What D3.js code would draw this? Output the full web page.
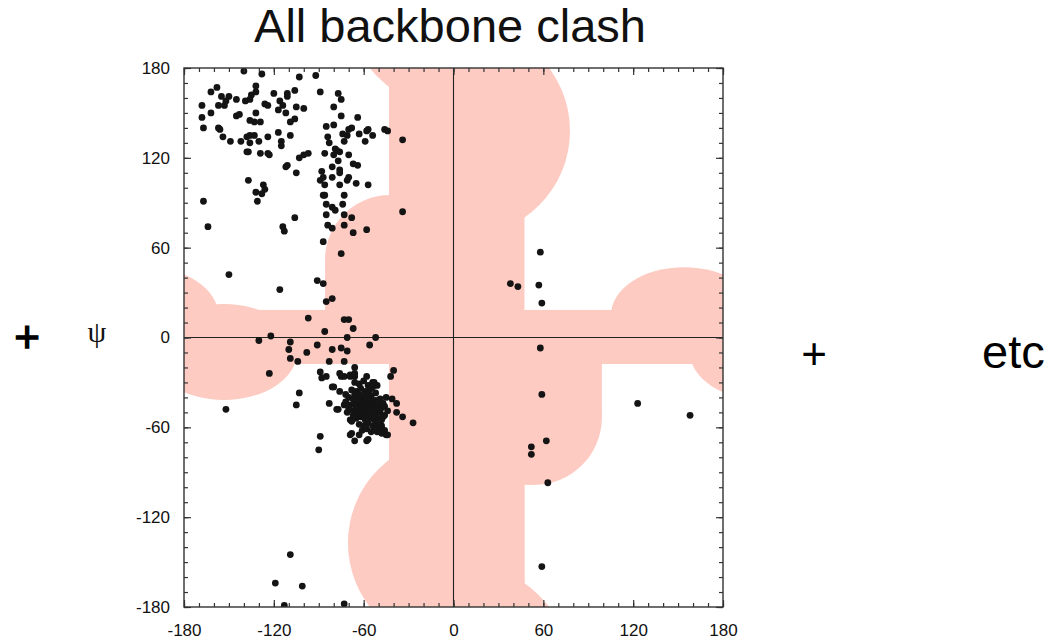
<!DOCTYPE html>
<html>
<head>
<meta charset="utf-8">
<script src="https://cdn.jsdelivr.net/npm/d3@7"></script>
<style>
body { margin: 0; background: #fff; }
</style>
</head>
<body>
<svg id="chart"></svg>
<script>
// tick labels (degrees)
const tickValues = [-180, -120, -60, 0, 60, 120, 180];

// clash region, in degrees
const bandPhi = [-43.1, 47.4];          // vertical band
const bandPsi = [-17.7, 18.4];          // horizontal band
const topLobe = [7.5, 138, 70.3];       // phi, psi, radius (right of band)
const bottomLobe = [-0.7, -137.2, 69.8];// phi, psi, radius (left of band)
const upperLeftCorner = [-42.4, 51.8, 43.4];
const lowerRightCorner = [54.1, -53.4, 45];
const upperRightLobe = [154, 15, 48.8, 32];     // phi, psi, rx, ry
const lowerLeftLobe = [-153.3, -9.7, 48.8, 32];

// residues [phi, psi]
const betaPoints = [
  [-140,178],[-128,176],[-103,174],[-92,175],
  [-162,164],[-158,167],[-132,168],[-132,164],[-120,163],[-106,165],[-111,163],[-111,161],[-89,164],[-77,163],[-75,159],
  [-168,155],[-157,155],[-155,161],[-150,161],[-152,158],[-153,155],[-145,159],[-139,158],[-135,162],[-136,159],[-126,156],[-124,155],[-116,158],[-114,155],[-117,152],[-105,154],[-100,153],[-80,154],
  [-168,147],[-162,150],[-145,148],[-143,149],[-132,150],[-136,145],[-133,144],[-129,144],[-112,150],[-106,146],[-109,144],[-75,148],[-64,147],
  [-167,140],[-157,140],[-156,139],[-154,134],[-149,131],[-142,131],[-138,134],[-136,135],[-133,135],[-130,131],[-136,130],[-124,134],[-117,137],[-115,131],[-109,135],[-115,128],
  [-85,141],[-80,142],[-84,134],[-83,130],[-74,136],[-70,139],[-68,140],[-71,135],[-73,131],[-63,136],[-58,138],[-57,139],[-54,135],[-59,131],[-46,139],[-44,138],[-34,132],
  [-138,124],[-137,124],[-129,123],[-124,123],[-123,122],[-100,122],[-97,123],[-103,120],[-111,115],[-112,114],[-105,110],
  [-86,123],[-79,126],[-78,125],[-76,124],[-80,122],[-77,118],[-70,122],[-81,114],[-76,112],[-76,110],[-67,116],[-64,115],
  [-88,111],[-87,107],[-89,105],[-86,102],[-81,107],[-76,102],[-70,107],[-71,105],[-65,103],[-57,102],
  [-137,105],[-132,97],[-127,102],[-126,99],[-128,96],[-131,91],
  [-87,95],[-86,95],[-85,89],[-81,87],[-79,85],[-74,89],[-73,95],[-85,82],[-73,82],[-68,80],[-84,75],[-81,73],[-73,75],[-67,70],[-58,72],
  [-167,91],[-164,74],[-114,74],[-113,71],[-106,80],[-34,84],[-87,64],[-75,56]
];

const bridgePoints = [
  [-150,42],[-91,38],[-87,36],[-116,32],[-85,24],[-81,26],
  [-97,13],[-73,12],[-70,12],[-67,6],[-86,4],
  [-130,-2],[-122,1],[-109,-3],[-110,-8],[-109,-14],[-98,-10],[-104,-16],
  [-91,-5],[-81,-8],[-75,-7],[-71,0],[-71,-9],[-73,-16],[-66,-20],[-56,-5],[-52,0],[-83,-16],
  [-123,-24],[-103,-37],[-105,-45],[-152,-48],[-89,-23],[-88,-27],[-85,-26],[-83,-44],[-77,-48],[-89,-66],[-90,-75],
  [-40,-22],[-42,-26],[-41,-41],[-38,-44],[-38,-50],[-34,-53],[-27,-57]
];

const alphaEdge = [
  [-76,-24],[-75,-26],[-73,-26],[-69,-26],[-66,-26],[-58,-26],[-54,-30],[-51,-32],[-81,-33],[-80,-33],
  [-76,-36],[-73,-45],[-78,-48],[-69,-55],[-68,-64],[-63,-65],[-58,-69],[-66,-69],[-51,-63],[-48,-64],
  [-45,-65],[-48,-59],[-47,-53],[-46,-46],[-45,-40],[-69,-25],[-66,-24],[-53,-30],[-69,-65],[-57,-68],
  [-44,-65],[-49,-62],[-46,-62]
];

const alphaCore = [
  [-66,-30],[-63,-31],[-60,-29],[-57,-32],[-54,-33],[-68,-35],[-65,-36],[-62,-34],[-59,-36],[-56,-35],
  [-52,-37],[-70,-40],[-67,-41],[-64,-39],[-61,-40],[-58,-41],[-55,-39],[-52,-42],[-49,-41],[-69,-45],
  [-66,-44],[-63,-46],[-60,-44],[-57,-45],[-54,-46],[-51,-45],[-48,-47],[-67,-49],[-64,-50],[-61,-48],
  [-58,-50],[-55,-49],[-52,-51],[-49,-50],[-65,-54],[-62,-53],[-59,-55],[-56,-53],[-53,-55],[-50,-54],
  [-63,-58],[-60,-59],[-57,-57],[-54,-59],[-51,-58],[-61,-62],[-58,-61],[-55,-63],[-52,-61],[-72,-38],
  [-71,-50],[-68,-56],[-47,-44],[-46,-52],[-59,-47],[-62,-43],[-56,-42],[-53,-48],[-65,-47],[-60,-52],
  [-57,-38],[-63,-38],[-50,-48],[-58,-56],[-64,-42],[-61,-45],[-55,-44],[-59,-39],[-56,-47],[-62,-51],
  [-53,-52],[-57,-54],[-50,-43],[-66,-38],[-70,-47],[-67,-52],[-48,-55],[-50,-59],[-72,-43],[-44,-49]
];

const leftHanded = [
  [58,57],[38,36],[43,34],[57,35],[59,23],[58,-7],[59,-38],[123,-44],[158,-52],
  [62,-69],[52,-73],[52,-78],[63,-97],[59,-153]
];

const lowerPoints = [[-109,-145],[-119,-164],[-101,-166],[-113,-179],[-73,-178]];

//
const width = 1058;
const height = 640;
const plot = { left: 184, right: 723, top: 68, bottom: 607 };
const pink = '#fdcbc2';
const sans = '"Liberation Sans", Arial, sans-serif';

var svg = d3.select('svg#chart').attr('width', width).attr('height', height);

var x = d3.scaleLinear().domain([-180, 180]).range([plot.left, plot.right]);
var y = d3.scaleLinear().domain([-180, 180]).range([plot.bottom, plot.top]);
var deg = function(d) { return x(d) - x(0); };

var defs = svg.append('defs');
defs.append('clipPath').attr('id', 'plot-clip').append('rect')
    .attr('x', plot.left).attr('y', plot.top)
    .attr('width', plot.right - plot.left).attr('height', plot.bottom - plot.top);
defs.append('clipPath').attr('id', 'right-of-band').append('rect')
    .attr('x', x(bandPhi[0])).attr('y', plot.top)
    .attr('width', plot.right - x(bandPhi[0])).attr('height', plot.bottom - plot.top);
defs.append('clipPath').attr('id', 'left-of-band').append('rect')
    .attr('x', plot.left).attr('y', plot.top)
    .attr('width', x(bandPhi[1]) - plot.left).attr('height', plot.bottom - plot.top);

// clash region
var clash = svg.append('g').attr('clip-path', 'url(#plot-clip)').attr('fill', pink);

clash.append('rect')
    .attr('x', x(bandPhi[0])).attr('y', plot.top)
    .attr('width', x(bandPhi[1]) - x(bandPhi[0])).attr('height', plot.bottom - plot.top);
clash.append('rect')
    .attr('x', plot.left).attr('y', y(bandPsi[1]))
    .attr('width', plot.right - plot.left).attr('height', y(bandPsi[0]) - y(bandPsi[1]));

// big lobes, wrapped in psi
clash.append('g').attr('clip-path', 'url(#right-of-band)')
    .selectAll('circle').data([0, -360]).enter().append('circle')
    .attr('cx', x(topLobe[0])).attr('cy', d => y(topLobe[1] + d)).attr('r', deg(topLobe[2]));
clash.append('g').attr('clip-path', 'url(#left-of-band)')
    .selectAll('circle').data([0, 360]).enter().append('circle')
    .attr('cx', x(bottomLobe[0])).attr('cy', d => y(bottomLobe[1] + d)).attr('r', deg(bottomLobe[2]));

// rounded corners next to the bands
clash.append('circle')
    .attr('cx', x(upperLeftCorner[0])).attr('cy', y(upperLeftCorner[1])).attr('r', deg(upperLeftCorner[2]));
clash.append('rect')
    .attr('x', x(upperLeftCorner[0] - upperLeftCorner[2])).attr('y', y(upperLeftCorner[1]))
    .attr('width', x(bandPhi[0]) - x(upperLeftCorner[0] - upperLeftCorner[2]) + 1)
    .attr('height', y(bandPsi[1]) - y(upperLeftCorner[1]) + 1);
clash.append('circle')
    .attr('cx', x(lowerRightCorner[0])).attr('cy', y(lowerRightCorner[1])).attr('r', deg(lowerRightCorner[2]));
clash.append('rect')
    .attr('x', x(bandPhi[1]) - 1).attr('y', y(bandPsi[0]) - 1)
    .attr('width', x(lowerRightCorner[0] + lowerRightCorner[2]) - x(bandPhi[1]) + 1)
    .attr('height', y(lowerRightCorner[1]) - y(bandPsi[0]) + 1);
clash.append('rect')
    .attr('x', x(bandPhi[1]) - 1).attr('y', y(lowerRightCorner[1]) - 1)
    .attr('width', x(lowerRightCorner[0]) - x(bandPhi[1]) + 1)
    .attr('height', deg(lowerRightCorner[2]) + 1);

// side lobes, wrapped in phi
clash.selectAll('ellipse.ur').data([0, -360]).enter().append('ellipse')
    .attr('class', 'ur')
    .attr('cx', d => x(upperRightLobe[0] + d)).attr('cy', y(upperRightLobe[1]))
    .attr('rx', deg(upperRightLobe[2])).attr('ry', deg(upperRightLobe[3]));
clash.selectAll('ellipse.ll').data([0, 360]).enter().append('ellipse')
    .attr('class', 'll')
    .attr('cx', d => x(lowerLeftLobe[0] + d)).attr('cy', y(lowerLeftLobe[1]))
    .attr('rx', deg(lowerLeftLobe[2])).attr('ry', deg(lowerLeftLobe[3]));

// zero lines
svg.append('line')
    .attr('x1', x(0)).attr('x2', x(0)).attr('y1', plot.top).attr('y2', plot.bottom)
    .attr('stroke', '#222').attr('stroke-width', 1.1);
svg.append('line')
    .attr('x1', plot.left).attr('x2', plot.right).attr('y1', y(0)).attr('y2', y(0))
    .attr('stroke', '#222').attr('stroke-width', 1.1);

// residues
var allPoints = betaPoints.concat(bridgePoints, alphaEdge, alphaCore, leftHanded, lowerPoints);
svg.append('g')
    .attr('clip-path', 'url(#plot-clip)')
    .selectAll('circle')
    .data(allPoints)
    .enter().append('circle')
    .attr('cx', d => x(d[0]))
    .attr('cy', d => y(d[1]))
    .attr('r', 3.4)
    .attr('fill', '#141414');

// axes, ticks pointing inward
var minorTicks = d3.range(-180, 181, 10);
var plain = function(d) { return String(d); };

function styleAxis(g) {
    g.select('.domain').remove();
    g.attr('font-family', sans).attr('font-size', 17);
    g.selectAll('.tick line').attr('stroke', '#333').attr('stroke-width', 1.2);
    g.selectAll('text').attr('fill', '#111');
}

svg.append('g').attr('transform', 'translate(0,' + plot.bottom + ')')
    .call(d3.axisBottom(x).tickValues(minorTicks).tickSize(-4).tickFormat('')).call(styleAxis);
svg.append('g').attr('transform', 'translate(0,' + plot.bottom + ')')
    .call(d3.axisBottom(x).tickValues(tickValues).tickSize(-7).tickPadding(17).tickFormat(plain)).call(styleAxis);
svg.append('g').attr('transform', 'translate(0,' + plot.top + ')')
    .call(d3.axisTop(x).tickValues(minorTicks).tickSize(-4).tickFormat('')).call(styleAxis);
svg.append('g').attr('transform', 'translate(0,' + plot.top + ')')
    .call(d3.axisTop(x).tickValues(tickValues).tickSize(-7).tickFormat('')).call(styleAxis);
svg.append('g').attr('transform', 'translate(' + plot.left + ',0)')
    .call(d3.axisLeft(y).tickValues(minorTicks).tickSize(-4).tickFormat('')).call(styleAxis);
svg.append('g').attr('transform', 'translate(' + plot.left + ',0)')
    .call(d3.axisLeft(y).tickValues(tickValues).tickSize(-7).tickPadding(14).tickFormat(plain)).call(styleAxis);
svg.append('g').attr('transform', 'translate(' + plot.right + ',0)')
    .call(d3.axisRight(y).tickValues(minorTicks).tickSize(-4).tickFormat('')).call(styleAxis);
svg.append('g').attr('transform', 'translate(' + plot.right + ',0)')
    .call(d3.axisRight(y).tickValues(tickValues).tickSize(-7).tickFormat('')).call(styleAxis);

svg.append('rect')
    .attr('x', plot.left).attr('y', plot.top)
    .attr('width', plot.right - plot.left).attr('height', plot.bottom - plot.top)
    .attr('fill', 'none').attr('stroke', '#333').attr('stroke-width', 1.4);

// title and side texts
svg.append('text')
    .attr('x', 450).attr('y', 42)
    .attr('text-anchor', 'middle')
    .attr('font-family', sans).attr('font-size', 47)
    .attr('fill', '#111')
    .text('All backbone clash');

svg.append('text')
    .attr('x', 27).attr('y', 352)
    .attr('text-anchor', 'middle')
    .attr('font-family', sans).attr('font-size', 44)
    .attr('fill', '#000').attr('stroke', '#000').attr('stroke-width', 1.3)
    .text('+');

svg.append('text')
    .attr('x', 97).attr('y', 342)
    .attr('text-anchor', 'middle')
    .attr('font-family', '"Liberation Serif", "DejaVu Serif", serif')
    .attr('font-size', 30)
    .attr('fill', '#111')
    .text('ψ');

svg.append('text')
    .attr('x', 814).attr('y', 369)
    .attr('text-anchor', 'middle')
    .attr('font-family', sans).attr('font-size', 44)
    .attr('fill', '#000')
    .text('+');

svg.append('text')
    .attr('x', 982).attr('y', 368)
    .attr('font-family', sans).attr('font-size', 47)
    .attr('fill', '#000')
    .text('etc');
</script>
</body>
</html>
